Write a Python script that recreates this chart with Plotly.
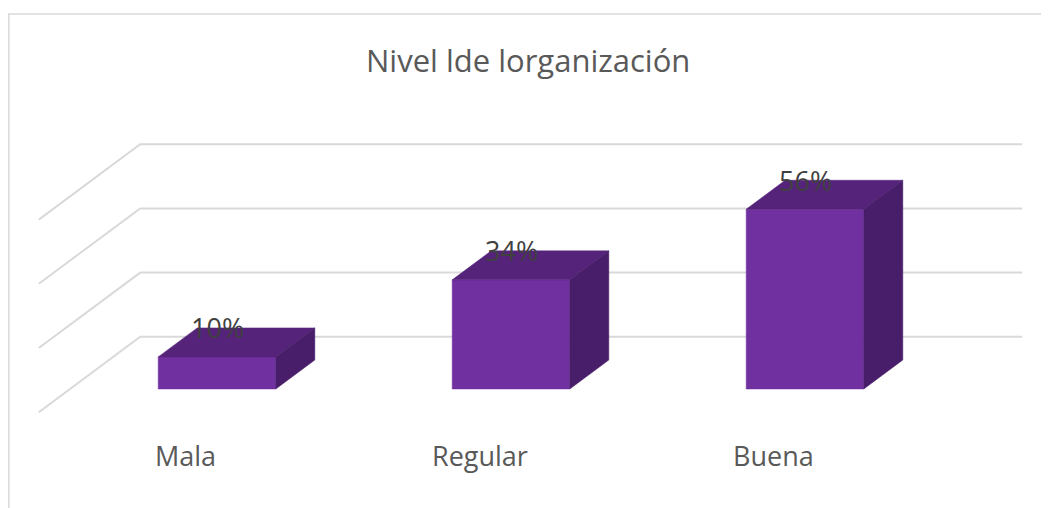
import plotly.graph_objects as go

# ---- data ----
categories = ["Mala", "Regular", "Buena"]
values = [10, 34, 56]
value_labels = ["10%", "34%", "56%"]
grid_values = [0, 20, 40, 60]
title_text = "Nivel lde lorganización"

# ---- style / projection ----
FRONT = "#7030A0"
TOP = "#55237A"
SIDE = "#481D69"
GRID = "#D9D9D9"
TEXT = "#595959"
FONT = "Open Sans"

PAGE_OFF = 8                    # default body margin of the page
W, H = 1049 - PAGE_OFF, 508 - PAGE_OFF
X0PX, XSTEP = 217.0 - PAGE_OFF, 294.0   # front-centre of first bar, spacing (px)
Y0PX, YSCALE = 389.0 - PAGE_OFF, 3.21   # zero level of front face (px), px per %
DX = 39.0 / XSTEP               # oblique depth offset per depth unit (x units)
DY = 29.0 / YSCALE              # oblique depth offset per depth unit (y units)
HALF = 0.2                      # half bar width (x units)
D_FRONT, D_BACK = -0.8, 1.8     # floor depth extent
XL, XR = -0.5, 2.5              # wall x extent


def proj(x, v, d):
    return x + d * DX, v + d * DY


fig = go.Figure()

# gridlines (back wall + left wall)
for gv in grid_values:
    pts = [proj(XL, gv, D_FRONT), proj(XL, gv, D_BACK), proj(XR, gv, D_BACK)]
    fig.add_trace(go.Scatter(x=[p[0] for p in pts], y=[p[1] for p in pts],
                             mode="lines", line=dict(color=GRID, width=2),
                             hoverinfo="skip"))


def face(pts, color):
    xs = [p[0] for p in pts] + [pts[0][0]]
    ys = [p[1] for p in pts] + [pts[0][1]]
    fig.add_trace(go.Scatter(x=xs, y=ys, mode="lines", fill="toself",
                             fillcolor=color, line=dict(color=color, width=0.5),
                             hoverinfo="skip"))


for i, v in enumerate(values):
    xa, xb = i - HALF, i + HALF
    face([proj(xa, 0, 0), proj(xb, 0, 0), proj(xb, v, 0), proj(xa, v, 0)], FRONT)
    face([proj(xa, v, 0), proj(xb, v, 0), proj(xb, v, 1), proj(xa, v, 1)], TOP)
    face([proj(xb, 0, 0), proj(xb, 0, 1), proj(xb, v, 1), proj(xb, v, 0)], SIDE)

annotations = []
for i, (v, lab) in enumerate(zip(values, value_labels)):
    annotations.append(dict(x=i, y=v + DY, text=lab, showarrow=False,
                            xanchor="center", yanchor="middle",
                            font=dict(family=FONT, size=27, color="#404040")))

label_y = (Y0PX - (455.0 - PAGE_OFF)) / YSCALE
for i, c in enumerate(categories):
    lx, _ = proj(i, 0, D_FRONT)
    annotations.append(dict(x=lx, y=label_y, text=c, showarrow=False,
                            xanchor="center", yanchor="middle",
                            font=dict(family=FONT, size=27, color=TEXT)))

annotations.append(dict(xref="paper", yref="paper",
                        x=(528 - PAGE_OFF) / W, y=1 - (60 - PAGE_OFF) / H,
                        text=title_text, showarrow=False, xanchor="center",
                        yanchor="middle",
                        font=dict(family=FONT, size=31, color=TEXT)))

fig.update_layout(
    width=W, height=H,
    margin=dict(l=0, r=0, t=0, b=0),
    paper_bgcolor="white", plot_bgcolor="white",
    showlegend=False,
    xaxis=dict(range=[-X0PX / XSTEP, (W - X0PX) / XSTEP], visible=False,
               fixedrange=True),
    yaxis=dict(range=[(Y0PX - H) / YSCALE, Y0PX / YSCALE], visible=False,
               fixedrange=True),
    annotations=annotations,
    shapes=[dict(type="rect", xref="paper", yref="paper",
                 x0=0.8 / W, x1=1.05, y0=-0.05, y1=1 - (14 - PAGE_OFF) / H,
                 line=dict(color=GRID, width=1.5))],
)

fig.write_html("out.html")
